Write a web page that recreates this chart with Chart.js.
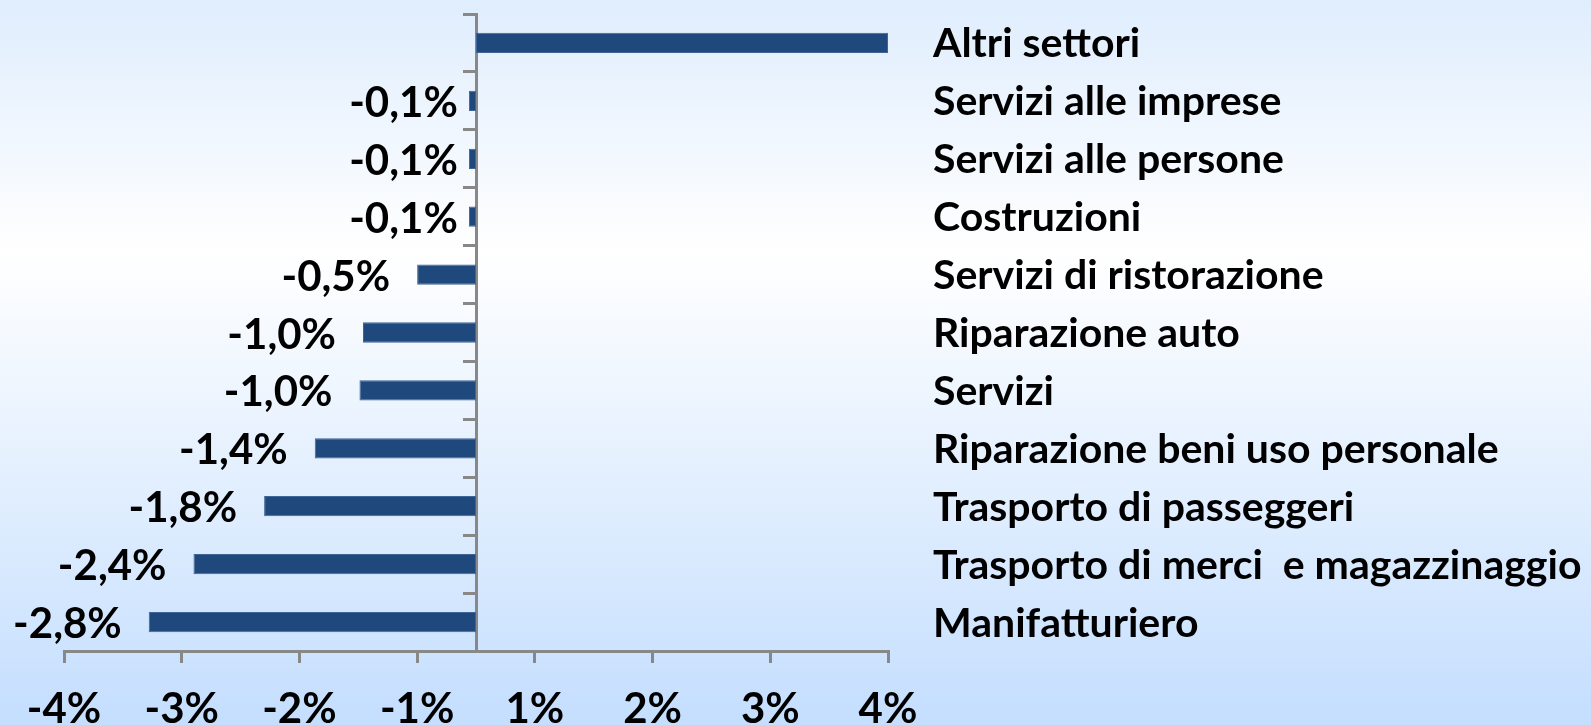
<!DOCTYPE html>
<html lang="it">
<head>
<meta charset="utf-8">
<title>Variazione per settore</title>
<script src="https://cdn.jsdelivr.net/npm/chart.js@4.4.0/dist/chart.umd.min.js"></script>
<style>
    html, body { margin: 0; padding: 0; background: #fff; }
    #wrap { width: 1591px; height: 725px; position: relative; }
</style>
</head>
<body>
<div id="wrap"><canvas id="chart"></canvas></div>
<script>
// ============================================================================
// Dati
// ============================================================================

const categories = [
    'Altri settori',
    'Servizi alle imprese',
    'Servizi alle persone',
    'Costruzioni',
    'Servizi di ristorazione',
    'Riparazione auto',
    'Servizi',
    'Riparazione beni uso personale',
    'Trasporto di passeggeri',
    'Trasporto di merci  e magazzinaggio',
    'Manifatturiero'
];
const values = [3.5, -0.06, -0.06, -0.06, -0.5, -0.96, -0.99, -1.37, -1.8, -2.4, -2.78];
const valueLabels = ['', '-0,1%', '-0,1%', '-0,1%', '-0,5%', '-1,0%', '-1,0%', '-1,4%', '-1,8%', '-2,4%', '-2,8%'];
const xTickValues = [-3.5, -2.5, -1.5, -0.5, 0.5, 1.5, 2.5, 3.5];
const xTickLabels = ['-4%', '-3%', '-2%', '-1%', '1%', '2%', '3%', '4%'];

const axisColor = '#888888';

// ============================================================================
// Plugins
// ============================================================================

/**
 * Sfondo sfumato (azzurro - bianco - azzurro)
 */
const backgroundPlugin = {
    id: 'gradientBackground',
    beforeDraw(chart) {
        const { ctx, width, height } = chart;
        const g = ctx.createLinearGradient(0, 0, 0, height);
        g.addColorStop(0, '#dfedfd');
        g.addColorStop(0.35, '#ffffff');
        g.addColorStop(1, '#c4defe');
        ctx.save();
        ctx.fillStyle = g;
        ctx.fillRect(0, 0, width, height);
        ctx.restore();
    }
};

/**
 * Etichette dei valori a sinistra delle barre e nomi dei settori a destra
 */
const labelPlugin = {
    id: 'barLabels',
    afterDatasetsDraw(chart) {
        const { ctx, chartArea } = chart;
        const meta = chart.getDatasetMeta(0);
        const zeroX = chart.scales.x.getPixelForValue(0);
        ctx.save();
        ctx.fillStyle = '#000';

        // valori
        ctx.font = 'bold 42px Lato';
        ctx.textAlign = 'right';
        ctx.textBaseline = 'alphabetic';
        meta.data.forEach((bar, i) => {
            const text = valueLabels[i];
            if (!text) return;
            const len = Math.abs(zeroX - bar.x);
            const gap = Math.min(30, len * 2);
            ctx.fillText(text, bar.x - gap + 3, bar.y + 16);
        });

        // settori
        ctx.font = 'bold 41px Lato';
        ctx.textAlign = 'left';
        categories.forEach((name, i) => {
            const y = chart.scales.y.getPixelForValue(i);
            ctx.fillText(name, chartArea.right + 45, y + 14.5);
        });
        ctx.restore();
    }
};

// ============================================================================
// Grafico
// ============================================================================

document.addEventListener('DOMContentLoaded', function() {
    Chart.defaults.font.family = 'Lato';
    Chart.defaults.font.weight = 'bold';
    Chart.defaults.color = '#000';

    const ctx = document.getElementById('chart').getContext('2d');
    new Chart(ctx, {
        type: 'bar',
        data: {
            labels: categories,
            datasets: [{
                data: values,
                backgroundColor: '#1F497D',
                borderColor: '#3F6496',
                borderWidth: 1,
                borderSkipped: false,
                barPercentage: 0.35,
                categoryPercentage: 1
            }]
        },
        options: {
            indexAxis: 'y',
            responsive: true,
            maintainAspectRatio: false,
            animation: false,
            layout: { padding: { left: 64, top: 14, right: 703, bottom: 0 } },
            plugins: {
                legend: { display: false },
                tooltip: { enabled: false }
            },
            scales: {
                x: {
                    min: -3.5,
                    max: 3.5,
                    afterBuildTicks: s => { s.ticks = xTickValues.map(v => ({ value: v })); },
                    afterFit: s => { s.height = 74; },
                    grid: { drawOnChartArea: false, drawTicks: true, tickLength: 12, color: axisColor, lineWidth: 3 },
                    border: { color: axisColor, width: 3 },
                    ticks: {
                        callback: (v, i) => xTickLabels[i],
                        font: { size: 42, weight: 'bold' },
                        color: '#000',
                        padding: 21,
                        maxRotation: 0,
                        autoSkip: false
                    }
                },
                y: {
                    position: { x: 0 },
                    ticks: { display: false },
                    grid: { drawOnChartArea: false, drawTicks: true, tickLength: 12, color: axisColor, lineWidth: 3 },
                    border: { color: axisColor, width: 3 }
                }
            }
        },
        plugins: [backgroundPlugin, labelPlugin]
    });
});
</script>
</body>
</html>
